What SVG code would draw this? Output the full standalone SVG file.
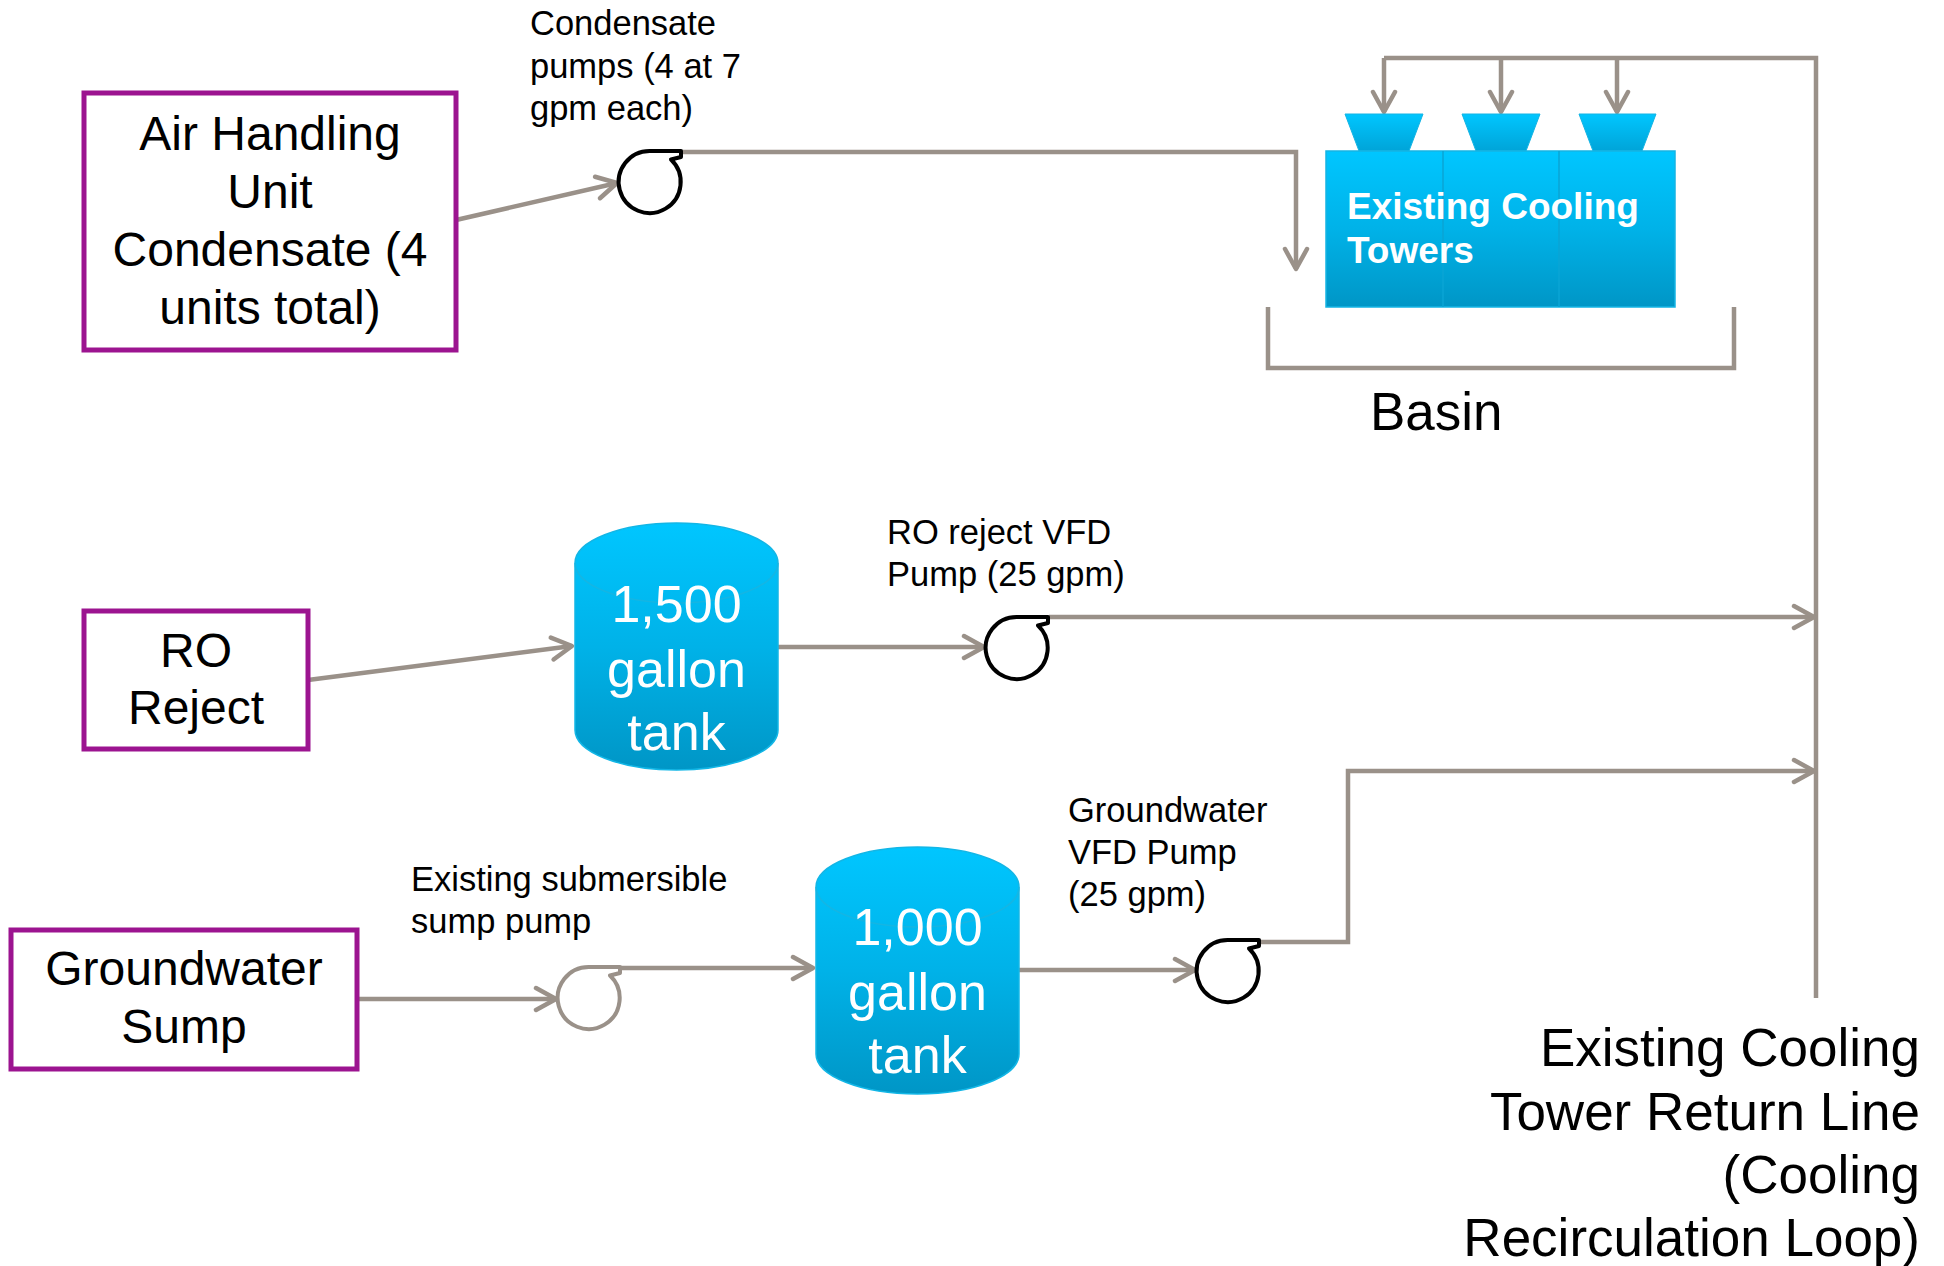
<svg xmlns="http://www.w3.org/2000/svg" xmlns:xlink="http://www.w3.org/1999/xlink" width="1944" height="1266" viewBox="0 0 1944 1266">
<style>
.box{fill:#ffffff;stroke:#9C1490;stroke-width:5}
.big{font-family:"Liberation Sans",Arial,sans-serif;font-size:48px;fill:#000000;text-anchor:middle}
.lbl{font-family:"Liberation Sans",Arial,sans-serif;font-size:34.5px;fill:#000000}
.huge{font-family:"Liberation Sans",Arial,sans-serif;font-size:53px;fill:#000000}
.tanktxt{font-family:"Liberation Sans",Arial,sans-serif;font-size:52px;fill:#ffffff;text-anchor:middle}
.twrtxt{font-family:"Liberation Sans",Arial,sans-serif;font-size:37px;font-weight:bold;fill:#ffffff}
.pipe{fill:none;stroke:#9A9189;stroke-width:4.5;stroke-linejoin:miter}
.arrowed{marker-end:url(#arr)}
.pumpk{fill:none;stroke:#000000;stroke-width:4;stroke-linejoin:round}
.pumpg{fill:none;stroke:#9A9189;stroke-width:4;stroke-linejoin:round}
</style>
<defs>
<linearGradient id="blue" x1="0" y1="0" x2="0" y2="1">
<stop offset="0" stop-color="#00C6FF"/>
<stop offset="0.5" stop-color="#00B2E8"/>
<stop offset="1" stop-color="#0096C6"/>
</linearGradient>
<linearGradient id="fan" x1="0" y1="0" x2="0" y2="1">
<stop offset="0" stop-color="#00C6FF"/>
<stop offset="1" stop-color="#00A4D8"/>
</linearGradient>
<marker id="arr" viewBox="-24 -14 28 28" refX="0" refY="0" markerWidth="28" markerHeight="28" markerUnits="userSpaceOnUse" orient="auto">
<path d="M-20,-11 L0,0 L-20,11" fill="none" stroke="#9A9189" stroke-width="4.5" stroke-linecap="round" stroke-linejoin="round"/>
</marker>
<path id="pump" d="M0,-31 H31 V-25 L21,-22.5 A31,31 0 1,1 0,-31 Z"/>
<path id="tankshape" d="M0,40 A101.5,40 0 0,1 203,40 V207 A101.5,40 0 0,1 0,207 Z"/>
</defs>

<g id="connectors">
<path class="pipe arrowed" d="M456,220 L617,183"/>
<path class="pipe arrowed" d="M681,152 H1296 V269"/>
<path class="pipe" d="M1816,998 V58 H1384"/>
<path class="pipe arrowed" d="M1384,58 V112"/>
<path class="pipe arrowed" d="M1501,58 V112"/>
<path class="pipe arrowed" d="M1617,58 V112"/>
<path class="pipe arrowed" d="M308,680 L572,646"/>
<path class="pipe arrowed" d="M777,647 H984"/>
<path class="pipe arrowed" d="M1049,617 H1814"/>
<path class="pipe arrowed" d="M357,999 H556"/>
<path class="pipe arrowed" d="M620,968 H813"/>
<path class="pipe arrowed" d="M1019,970 H1195"/>
<path class="pipe arrowed" d="M1259,942 H1348 V771 H1814"/>
</g>

<g id="ahu">
<rect class="box" x="84" y="93" width="372" height="257"/>
<text class="big" x="270" y="150">Air Handling</text>
<text class="big" x="270" y="208">Unit</text>
<text class="big" x="270" y="266">Condensate (4</text>
<text class="big" x="270" y="324">units total)</text>
</g>

<g id="ro-reject">
<rect class="box" x="84" y="611" width="224" height="138"/>
<text class="big" x="196" y="667">RO</text>
<text class="big" x="196" y="724">Reject</text>
</g>

<g id="groundwater-sump">
<rect class="box" x="11" y="930" width="346" height="139"/>
<text class="big" x="184" y="985">Groundwater</text>
<text class="big" x="184" y="1043">Sump</text>
</g>

<g id="condensate-pump">
<use xlink:href="#pump" href="#pump" class="pumpk" x="650" y="182"/>
<text class="lbl" x="530" y="35">Condensate</text>
<text class="lbl" x="530" y="78">pumps (4 at 7</text>
<text class="lbl" x="530" y="120">gpm each)</text>
</g>

<g id="ro-pump">
<use xlink:href="#pump" href="#pump" class="pumpk" x="1017" y="648"/>
<text class="lbl" x="887" y="544">RO reject VFD</text>
<text class="lbl" x="887" y="586">Pump (25 gpm)</text>
</g>

<g id="sump-pump">
<use xlink:href="#pump" href="#pump" class="pumpg" x="589" y="998"/>
<text class="lbl" x="411" y="891">Existing submersible</text>
<text class="lbl" x="411" y="933">sump pump</text>
</g>

<g id="groundwater-pump">
<use xlink:href="#pump" href="#pump" class="pumpk" x="1228" y="971"/>
<text class="lbl" x="1068" y="822">Groundwater</text>
<text class="lbl" x="1068" y="864">VFD Pump</text>
<text class="lbl" x="1068" y="906">(25 gpm)</text>
</g>

<g id="tank-1500">
<use xlink:href="#tankshape" href="#tankshape" x="575" y="523" fill="url(#blue)" stroke="#12B6E6" stroke-width="1.5"/>
<path d="M575,563 A101.5,40 0 0,0 778,563" fill="none" stroke="#19B4E0" stroke-width="1.5" opacity="0.8"/>
<text class="tanktxt" x="676.5" y="622">1,500</text>
<text class="tanktxt" x="676.5" y="687">gallon</text>
<text class="tanktxt" x="676.5" y="750">tank</text>
</g>

<g id="tank-1000">
<use xlink:href="#tankshape" href="#tankshape" x="816" y="847" fill="url(#blue)" stroke="#12B6E6" stroke-width="1.5"/>
<path d="M816,887 A101.5,40 0 0,0 1019,887" fill="none" stroke="#19B4E0" stroke-width="1.5" opacity="0.8"/>
<text class="tanktxt" x="917.5" y="945">1,000</text>
<text class="tanktxt" x="917.5" y="1010">gallon</text>
<text class="tanktxt" x="917.5" y="1073">tank</text>
</g>

<g id="cooling-towers">
<polygon points="1345,114 1423,114 1409,151 1359,151" fill="url(#fan)" stroke="#14B4E4" stroke-width="1"/>
<polygon points="1462,114 1540,114 1526,151 1476,151" fill="url(#fan)" stroke="#14B4E4" stroke-width="1"/>
<polygon points="1579,114 1656,114 1642,151 1593,151" fill="url(#fan)" stroke="#14B4E4" stroke-width="1"/>
<rect x="1326" y="151" width="349" height="156" fill="url(#blue)" stroke="#14B4E4" stroke-width="1.5"/>
<line x1="1443" y1="151" x2="1443" y2="307" stroke="#0AA4D4" stroke-width="1.5"/>
<line x1="1559" y1="151" x2="1559" y2="307" stroke="#0AA4D4" stroke-width="1.5"/>
<text class="twrtxt" x="1347" y="219">Existing Cooling</text>
<text class="twrtxt" x="1347" y="263">Towers</text>
</g>

<g id="basin">
<path class="pipe" d="M1268,307 V368 H1734 V307"/>
<text class="huge" x="1370" y="430" font-size="52">Basin</text>
</g>

<g id="return-line-label">
<text class="huge" x="1920" y="1066" text-anchor="end">Existing Cooling</text>
<text class="huge" x="1920" y="1130" text-anchor="end">Tower Return Line</text>
<text class="huge" x="1920" y="1193" text-anchor="end">(Cooling</text>
<text class="huge" x="1920" y="1256" text-anchor="end">Recirculation Loop)</text>
</g>
</svg>
